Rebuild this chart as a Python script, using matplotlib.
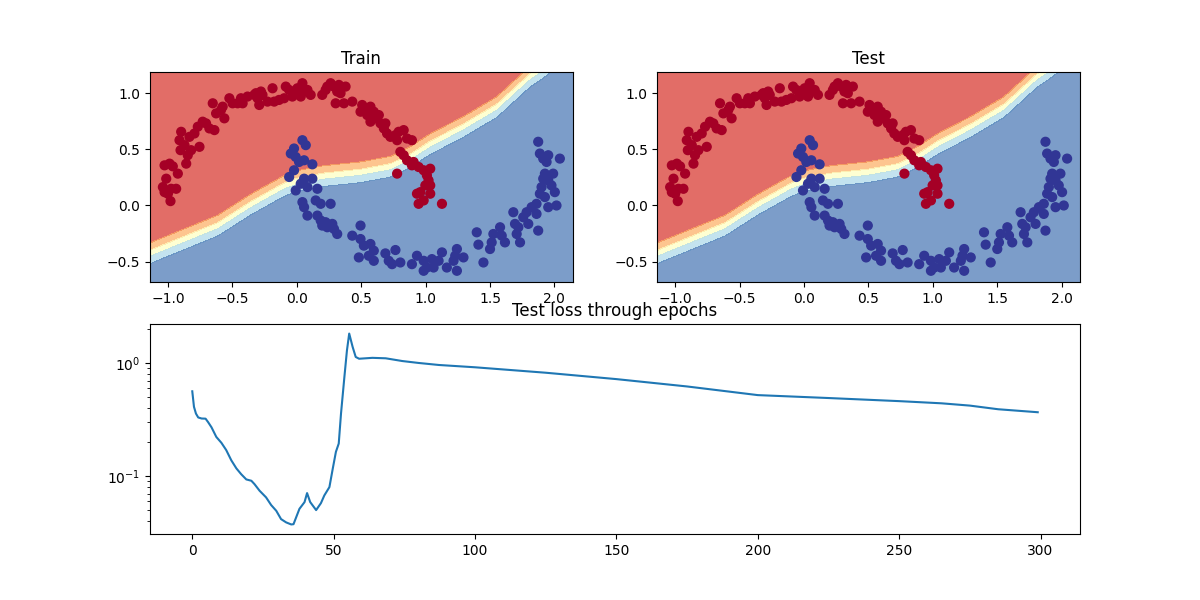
import numpy as np
import matplotlib.pyplot as plt

# moons data (same points shown in both panels)
red_x = [-1.026, -0.987, -0.962, -1.013, -1.039, -1.026, -1.000, -0.975, -0.936, -0.980,
         -0.923, -0.897, -0.910, -0.902, -0.871, -0.846, -0.858, -0.820, -0.833, -0.794,
         -0.755, -0.768, -0.730, -0.704, -0.678, -0.639, -0.652, -0.626, -0.588, -0.562,
         -0.575, -0.523, -0.498, -0.459, -0.420, -0.433, -0.382, -0.330, -0.304, -0.291,
         -0.317, -0.266, -0.278, -0.227, -0.188, -0.175, -0.137, -0.098, -0.085, -0.059,
         -0.034, -0.008, 0.005, 0.031, 0.044, 0.057, 0.083, 0.108, 0.198, 0.224,
         0.237, 0.263, 0.289, 0.314, 0.340, 0.327, 0.379, 0.302, 0.366, 0.431,
         0.495, 0.508, 0.534, 0.547, 0.572, 0.598, 0.611, 0.637, 0.572, 0.650,
         0.676, 0.701, 0.688, 0.727, 0.766, 0.791, 0.779, 0.830, 0.856, 0.894,
         0.804, 0.830, 0.856, 0.894, 0.907, 0.946, 0.985, 1.036, 1.010, 1.023,
         1.036, 0.998, 0.959, 0.946, 0.985, 1.036, 0.933, 0.779, 1.127]
red_y = [0.358, 0.373, 0.349, 0.239, 0.164, 0.119, 0.105, 0.149, 0.149, 0.039,
         0.284, 0.657, 0.582, 0.493, 0.538, 0.448, 0.373, 0.493, 0.612, 0.642,
         0.523, 0.702, 0.747, 0.732, 0.687, 0.672, 0.911, 0.821, 0.851, 0.777,
         0.881, 0.956, 0.911, 0.911, 0.911, 0.956, 0.971, 0.986, 0.956, 0.896,
         1.001, 0.986, 1.016, 0.926, 1.045, 0.926, 0.941, 0.956, 1.060, 1.030,
         0.971, 1.001, 1.045, 0.971, 1.090, 1.016, 1.030, 0.986, 0.986, 1.030,
         1.060, 1.090, 1.060, 1.016, 1.001, 1.075, 1.060, 0.911, 0.911, 0.926,
         0.836, 0.896, 0.851, 0.806, 0.881, 0.836, 0.777, 0.806, 0.747, 0.732,
         0.687, 0.642, 0.732, 0.612, 0.627, 0.657, 0.582, 0.672, 0.597, 0.582,
         0.478, 0.448, 0.403, 0.358, 0.388, 0.343, 0.314, 0.328, 0.269, 0.224,
         0.179, 0.179, 0.119, 0.015, 0.045, 0.105, 0.105, 0.284, 0.015]

blue_x = [0.044, 0.070, -0.021, -0.046, -0.008, 0.057, 0.018, 0.121, -0.021, -0.059,
          0.057, 0.121, 0.031, -0.008, 0.083, 0.160, 0.044, 0.057, 0.083, 0.147,
          0.186, 0.263, 0.160, 0.186, 0.224, 0.237, 0.276, 0.289, 0.314, 0.198,
          0.431, 0.495, 0.495, 0.521, 0.572, 0.598, 0.559, 0.482, 0.598, 0.688,
          0.766, 0.714, 0.804, 0.740, 0.894, 0.933, 0.985, 1.010, 0.985, 1.062,
          1.049, 1.101, 1.127, 1.165, 1.217, 1.230, 1.243, 1.294, 1.243, 1.397,
          1.410, 1.500, 1.513, 1.449, 1.526, 1.578, 1.591, 1.616, 1.681, 1.694,
          1.720, 1.707, 1.733, 1.758, 1.784, 1.797, 1.823, 1.861, 1.874, 1.861,
          1.887, 1.900, 1.913, 1.926, 1.952, 1.977, 1.990, 1.926, 1.952, 2.003,
          2.016, 1.874, 1.887, 1.913, 1.952, 1.939, 2.042]
blue_y = [0.582, 0.538, 0.508, 0.463, 0.433, 0.403, 0.388, 0.367, 0.314, 0.254,
          0.239, 0.239, 0.194, 0.134, 0.164, 0.149, 0.030, -0.015, -0.090, 0.045,
          0.015, 0.015, -0.090, -0.134, -0.149, -0.194, -0.164, -0.209, -0.254, -0.179,
          -0.269, -0.179, -0.299, -0.358, -0.343, -0.403, -0.448, -0.463, -0.493, -0.427,
          -0.397, -0.493, -0.508, -0.523, -0.523, -0.448, -0.493, -0.553, -0.582, -0.553,
          -0.478, -0.493, -0.418, -0.553, -0.493, -0.448, -0.388, -0.463, -0.582, -0.239,
          -0.349, -0.388, -0.329, -0.508, -0.254, -0.194, -0.269, -0.329, -0.060, -0.164,
          -0.194, -0.254, -0.329, -0.105, -0.060, -0.164, -0.015, -0.075, -0.224, 0.015,
          0.105, 0.164, 0.239, 0.284, 0.224, 0.179, 0.284, 0.075, -0.015, 0.119,
          0.000, 0.568, 0.463, 0.418, 0.448, 0.388, 0.418]

# 50% line of the model's decision surface
boundary_x = [-1.20, -1.129, -0.870, -0.611, -0.354, -0.101, -0.030, 0.031, 0.209, 0.495,
              0.727, 0.880, 1.036, 1.292, 1.554, 1.810, 1.926, 2.20]
boundary_y = [-0.47, -0.421, -0.300, -0.179, 0.010, 0.172, 0.205, 0.224, 0.262, 0.296,
              0.345, 0.430, 0.547, 0.699, 0.878, 1.147, 1.237, 1.50]

epochs = [0, 0.6, 1.3, 2.1, 3.3, 4.7, 5.6, 6.8, 8.5, 10.3, 12.0, 13.8, 15.6, 17.3, 19.1,
          20.9, 22.0, 23.8, 26.1, 27.9, 29.7, 31.4, 33.2, 35.0, 35.8, 37.9, 39.7, 40.6,
          41.7, 43.8, 45.5, 46.7, 48.5, 49.7, 50.8, 51.8, 52.6, 53.8, 54.7, 55.5, 56.7,
          57.8, 59.0, 63.7, 68.4, 74.3, 80.1, 87.2, 100, 125, 150, 175, 200, 225, 250,
          265, 275, 285, 299]
test_loss = [0.562, 0.41, 0.357, 0.33, 0.323, 0.322, 0.30, 0.27, 0.222, 0.197, 0.17,
             0.138, 0.117, 0.104, 0.0935, 0.091, 0.085, 0.0743, 0.0649, 0.0555, 0.0494,
             0.0417, 0.039, 0.0374, 0.0376, 0.0514, 0.0589, 0.0708, 0.059, 0.0501, 0.0577,
             0.0675, 0.080, 0.117, 0.164, 0.194, 0.357, 0.753, 1.29, 1.82, 1.39, 1.13,
             1.09, 1.11, 1.10, 1.04, 1.00, 0.96, 0.916, 0.82, 0.72, 0.62, 0.52, 0.49,
             0.46, 0.44, 0.42, 0.39, 0.367]


def plot_decision_boundary(X, y):
    x_min, x_max = X[:, 0].min() - 0.1, X[:, 0].max() + 0.1
    y_min, y_max = X[:, 1].min() - 0.1, X[:, 1].max() + 0.1
    xx, yy = np.meshgrid(np.linspace(x_min, x_max, 101), np.linspace(y_min, y_max, 101))
    edge = np.interp(xx, boundary_x, boundary_y)
    y_pred = 1 / (1 + np.exp(-15 * (edge - yy)))
    plt.contourf(xx, yy, y_pred, levels=np.linspace(0, 1, 6), cmap=plt.cm.RdYlBu, alpha=0.7)
    plt.scatter(X[:, 0], X[:, 1], c=y, s=40, cmap=plt.cm.RdYlBu)
    plt.xlim(xx.min(), xx.max())
    plt.ylim(yy.min(), yy.max())


X = np.column_stack([red_x + blue_x, red_y + blue_y])
labels = np.array([0] * len(red_x) + [1] * len(blue_x))

plt.figure(figsize=(12, 6), dpi=100)
plt.subplot(2, 2, 1)
plt.title("Train")
plot_decision_boundary(X, labels)
plt.subplot(2, 2, 2)
plt.title("Test")
plot_decision_boundary(X, labels)

plt.subplot(2, 1, 2)
plt.plot(epochs, test_loss)
plt.yscale("log")
plt.title("Test loss through epochs")

plt.savefig("out.png", dpi=100)
